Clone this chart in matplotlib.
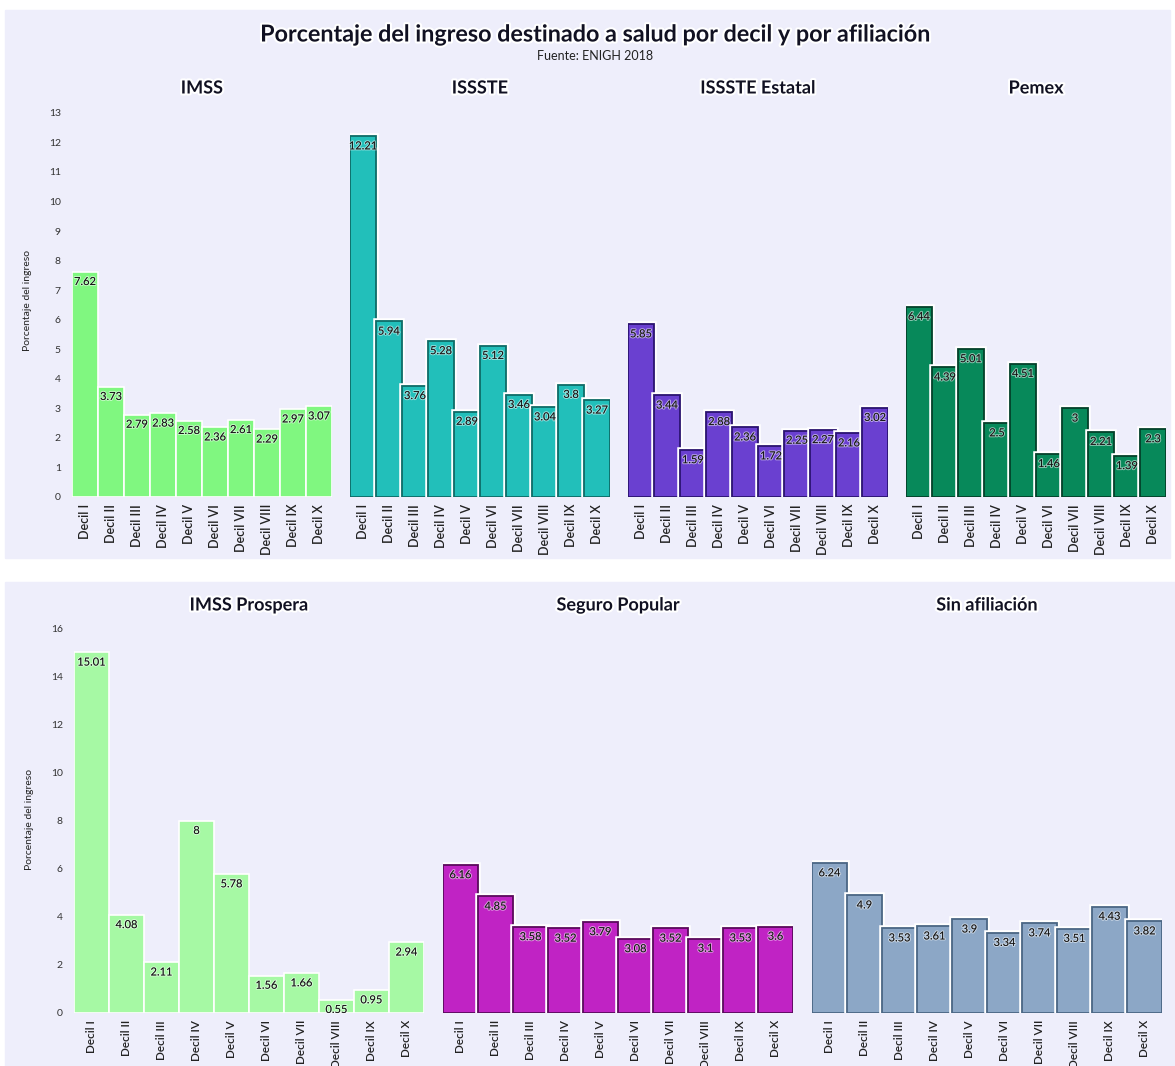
import matplotlib
matplotlib.use('Agg')
import matplotlib.pyplot as plt
import matplotlib.patheffects as pe
from matplotlib.patches import Rectangle

W, H = 1175, 1066

deciles = ['Decil I', 'Decil II', 'Decil III', 'Decil IV', 'Decil V',
           'Decil VI', 'Decil VII', 'Decil VIII', 'Decil IX', 'Decil X']

imss = [7.62, 3.73, 2.79, 2.83, 2.58, 2.36, 2.61, 2.29, 2.97, 3.07]
issste = [12.21, 5.94, 3.76, 5.28, 2.89, 5.12, 3.46, 3.04, 3.8, 3.27]
issste_estatal = [5.85, 3.44, 1.59, 2.88, 2.36, 1.72, 2.25, 2.27, 2.16, 3.02]
pemex = [6.44, 4.39, 5.01, 2.5, 4.51, 1.46, 3, 2.21, 1.39, 2.3]
imss_prospera = [15.01, 4.08, 2.11, 8, 5.78, 1.56, 1.66, 0.55, 0.95, 2.94]
seguro_popular = [6.16, 4.85, 3.58, 3.52, 3.79, 3.08, 3.52, 3.1, 3.53, 3.6]
sin_afiliacion = [6.24, 4.9, 3.53, 3.61, 3.9, 3.34, 3.74, 3.51, 4.43, 3.82]

top_row = [('IMSS', imss, '#80f780', None),
           ('ISSSTE', issste, '#22bfba', '#0d6b67'),
           ('ISSSTE Estatal', issste_estatal, '#6a40d0', '#2a1370'),
           ('Pemex', pemex, '#07895a', '#03402a')]
bottom_row = [('IMSS Prospera', imss_prospera, '#a6f9a4', None),
              ('Seguro Popular', seguro_popular, '#c023c4', '#5a0a5c'),
              ('Sin afiliación', sin_afiliacion, '#8ca7c6', '#4a6684')]

bg = '#eeeefb'
plt.rcParams['font.family'] = ['Lato', 'DejaVu Sans']

fig = plt.figure(figsize=(W / 100, H / 100), dpi=100, facecolor='white')


def px(x0, y0, x1, y1):
    # pixel box (top-left origin) -> figure fraction rect
    return [x0 / W, 1 - y1 / H, (x1 - x0) / W, (y1 - y0) / H]


fig.add_artist(Rectangle((5 / W, 1 - 558 / H), 1165 / W, 548 / H,
                         transform=fig.transFigure, color=bg, zorder=0))
fig.add_artist(Rectangle((5 / W, 0), 1170 / W, 484 / H,
                         transform=fig.transFigure, color=bg, zorder=0))

glow = [pe.withStroke(linewidth=3, foreground='white')]

fig.text(595 / W, 1 - 35 / H, 'Porcentaje del ingreso destinado a salud por decil y por afiliación',
         ha='center', va='center', fontsize=16.8, fontweight='bold', color='#111122', path_effects=glow)
fig.text(595 / W, 1 - 56 / H, 'Fuente: ENIGH 2018', ha='center', va='center',
         fontsize=9, color='#222222')


def draw_panel(ax, name, vals, color, edge, ymax, yticks, first, tick_fs):
    x = list(range(len(vals)))
    if edge is None:
        bars = ax.bar(x, vals, width=1, color=color, edgecolor='white', linewidth=1.2)
    else:
        bars = ax.bar(x, vals, width=1, color=color, edgecolor=edge, linewidth=1.3)
        for b in bars:
            b.set_path_effects([pe.Stroke(linewidth=4, foreground='white'), pe.Normal()])
    for xi, v in zip(x, vals):
        ax.annotate(f'{v:g}', (xi, v), xytext=(0, -3), textcoords='offset points',
                    ha='center', va='top', fontsize=8, color='#111111',
                    path_effects=[pe.withStroke(linewidth=1.5, foreground=(1, 1, 1, 0.5))])
    ax.set_xlim(-0.5, len(vals) - 0.5)
    ax.set_ylim(0, ymax)
    ax.set_facecolor('none')
    for s in ax.spines.values():
        s.set_visible(False)
    ax.set_xticks(x)
    ax.set_xticklabels(deciles, rotation=90, fontsize=tick_fs, color='#222222', fontweight='semibold')
    ax.set_yticks(yticks)
    ax.tick_params(axis='x', length=0, pad=5)
    ax.tick_params(axis='y', length=0, pad=8, labelsize=7.5, labelcolor='#333333')
    if first:
        ax.set_ylabel('Porcentaje del ingreso', fontsize=7.5, color='#222222', labelpad=12)
    else:
        ax.set_yticklabels([])


for i, (name, vals, color, edge) in enumerate(top_row):
    x0 = 72 + i * 278
    ax = fig.add_axes(px(x0, 104, x0 + 260, 497))
    draw_panel(ax, name, vals, color, edge, 13.3, range(0, 14), i == 0, 9)
    fig.text((x0 + 130) / W, 1 - 88 / H, name, ha='center', va='center', fontsize=13,
             fontweight='bold', color='#111122', path_effects=glow)

for i, (name, vals, color, edge) in enumerate(bottom_row):
    x0 = 74 + i * 369
    ax = fig.add_axes(px(x0, 625, x0 + 350, 1013))
    draw_panel(ax, name, vals, color, edge, 16.15, range(0, 17, 2), i == 0, 8.5)
    fig.text((x0 + 175) / W, 1 - 605 / H, name, ha='center', va='center', fontsize=13,
             fontweight='bold', color='#111122', path_effects=glow)

fig.savefig('out.png', dpi=100, facecolor='white')
